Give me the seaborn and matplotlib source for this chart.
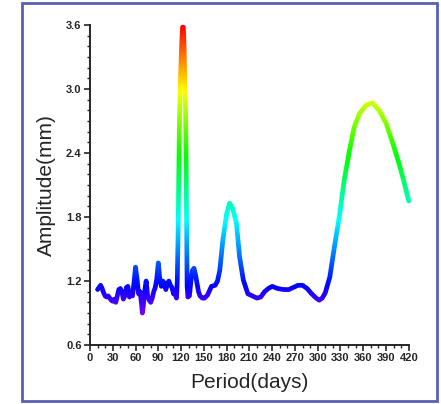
import numpy as np
import pandas as pd
import matplotlib
matplotlib.use('Agg')
import matplotlib.pyplot as plt
import seaborn as sns
from matplotlib.colors import Normalize
from matplotlib.patches import Rectangle
from matplotlib.ticker import MultipleLocator

# 周期 (days) 与振幅 (mm)
period = [10, 12, 14, 16, 18, 20, 22, 24, 26, 28, 30, 32, 34, 36, 38, 40, 42, 44, 46, 48,
          50, 52, 54, 56, 58, 60, 62, 64, 66, 68, 69, 70, 72, 74, 76, 78, 80, 82, 84, 86,
          88, 90, 92, 94, 96, 98, 100, 102, 104, 106, 108, 110, 112, 114, 115, 116, 117, 118,
          119, 120, 121, 122, 123, 124, 125, 126, 127, 128, 129, 131, 133, 135, 137, 139, 141,
          143, 145, 148, 151, 155, 160, 165, 168, 171, 175, 180, 184, 188, 193, 197, 202, 208,
          214, 220, 225, 230, 235, 240, 247, 255, 262, 268, 274, 280, 286, 292, 298, 302,
          306, 310, 316, 322, 329, 335, 342, 348, 355, 364, 372, 381, 390, 399, 408, 414, 420]
amplitude = [1.12, 1.14, 1.16, 1.13, 1.09, 1.06, 1.05, 1.06, 1.04, 1.02, 1.01, 1.03, 1.00,
             1.06, 1.12, 1.13, 1.10, 1.03, 1.06, 1.14, 1.15, 1.05, 1.08, 1.06, 1.18, 1.33,
             1.22, 1.08, 1.10, 0.98, 0.90, 0.95, 1.10, 1.20, 1.06, 1.02, 1.00, 1.04, 1.10,
             1.14, 1.22, 1.37, 1.22, 1.15, 1.20, 1.18, 1.12, 1.18, 1.20, 1.16, 1.14, 1.08,
             1.08, 1.04, 1.20, 1.60, 2.20, 2.75, 3.05, 3.25, 3.45, 3.58, 3.58, 3.40, 3.05,
             2.80, 2.00, 1.15, 1.05, 1.06, 1.20, 1.30, 1.32, 1.26, 1.18, 1.10, 1.06, 1.04,
             1.04, 1.07, 1.15, 1.16, 1.20, 1.30, 1.58, 1.83, 1.93, 1.88, 1.74, 1.43, 1.21,
             1.08, 1.06, 1.04, 1.05, 1.10, 1.13, 1.15, 1.13, 1.12, 1.12, 1.14, 1.16, 1.16,
             1.13, 1.08, 1.04, 1.02, 1.04, 1.09, 1.24, 1.52, 1.83, 2.15, 2.43, 2.64, 2.77,
             2.85, 2.87, 2.80, 2.68, 2.49, 2.28, 2.12, 1.95]

x_ticks = list(range(0, 421, 30))
y_ticks = [0.6, 1.2, 1.8, 2.4, 3.0, 3.6]

sns.set_style('ticks')
plt.rcParams['font.family'] = ['Liberation Sans', 'DejaVu Sans']

W, H, DPI = 441, 404, 100
pos = [0.204, 0.146, 0.723, 0.792]
df = pd.DataFrame({'Period': period, 'Amplitude': amplitude})


def setup(ax):
    ax.set_xlim(0, 420)
    ax.set_ylim(0.6, 3.6)


def line_mask():
    # 先单独画一遍曲线, 拿到曲线覆盖的像素
    mf = plt.figure(figsize=(W / DPI, H / DPI), dpi=DPI)
    ma = mf.add_axes(pos)
    sns.lineplot(data=df, x='Period', y='Amplitude', ax=ma, estimator=None, sort=False,
                 color='black', linewidth=3.4, solid_capstyle='round',
                 solid_joinstyle='round', clip_on=False)
    setup(ma)
    ma.axis('off')
    mf.canvas.draw()
    buf = np.asarray(mf.canvas.buffer_rgba())[..., 0].astype(float)
    plt.close(mf)
    return 1 - buf / 255


fig = plt.figure(figsize=(W / DPI, H / DPI), dpi=DPI)
ax = fig.add_axes(pos)
setup(ax)

ax.set_xticks(x_ticks)
ax.set_yticks(y_ticks)
ax.set_yticklabels([f'{v:.1f}' for v in y_ticks])
ax.xaxis.set_minor_locator(MultipleLocator(10))
ax.yaxis.set_minor_locator(MultipleLocator(0.1))
ax.tick_params(which='major', length=4, width=1.2, labelsize=8, pad=2)
ax.tick_params(which='minor', length=2.5, width=1)
for lab in ax.get_xticklabels() + ax.get_yticklabels():
    lab.set_fontweight('bold')

sns.despine(ax=ax)
for s in ['left', 'bottom']:
    ax.spines[s].set_linewidth(1.4)

ax.set_xlabel('Period(days)', fontsize=15, labelpad=7)
ax.set_ylabel('Amplitude(mm)', fontsize=15, labelpad=7)

# 颜色随振幅变化: 红(3.6) -> 黄 -> 绿 -> 青 -> 蓝 -> 紫
mask = line_mask()
rows = np.arange(H)
disp_y = H - rows - 0.5
val = ax.transData.inverted().transform(np.column_stack([np.zeros(H), disp_y]))[:, 1]
row_col = plt.get_cmap('hsv_r')(Normalize(0, 3.6)(np.clip(val, 0.6, 3.7)))
img = np.repeat(row_col[:, None, :], W, axis=1)
img[..., 3] = mask
fig.figimage(img, xo=0, yo=0, origin='upper', zorder=3)

# 外框
fig.patches.append(Rectangle((22 / 441, 3 / 404), 415 / 441, 398 / 404, transform=fig.transFigure,
                             fill=False, edgecolor='#5a5fb4', linewidth=2))

fig.savefig('out.png', dpi=DPI)
